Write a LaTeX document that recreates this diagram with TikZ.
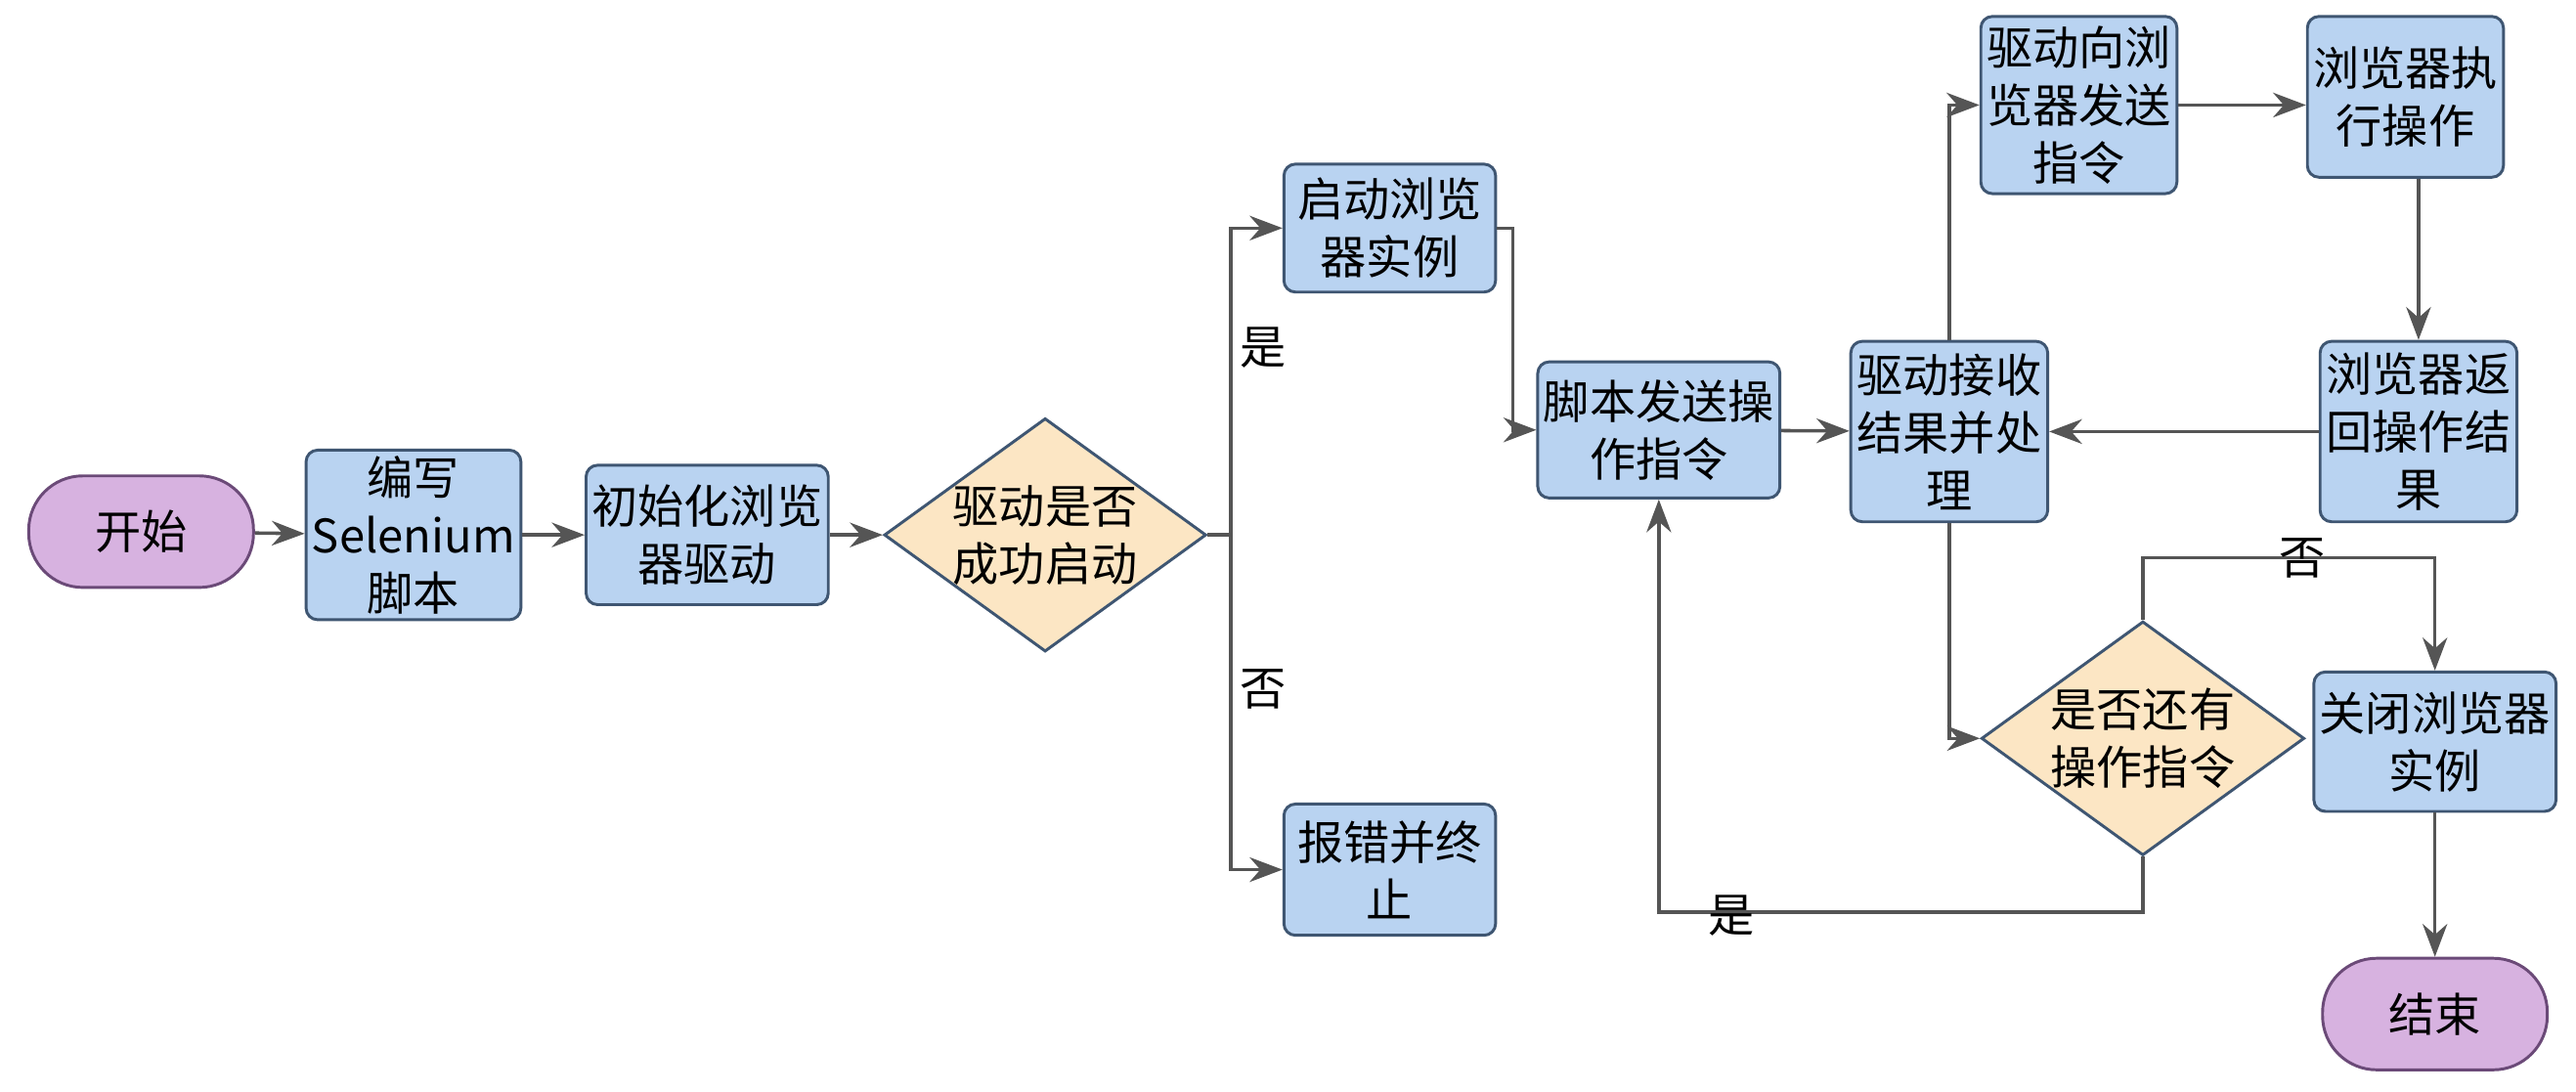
\documentclass[tikz,border=0pt]{standalone}
\usepackage{fontspec}
\setmainfont{Noto Sans CJK SC}
\usetikzlibrary{shapes.geometric,arrows.meta}
\definecolor{boxf}{HTML}{B9D3F1}
\definecolor{boxd}{HTML}{3F5672}
\definecolor{purf}{HTML}{D7B2E0}
\definecolor{purd}{HTML}{6B4A78}
\definecolor{diaf}{HTML}{FCE6C4}
\definecolor{lin}{HTML}{555555}
\begin{document}
\begin{tikzpicture}[x=0.1mm,y=-0.1mm,font=\fontsize{8}{10}\selectfont,
 box/.style={draw=boxd,fill=boxf,rounded corners=2pt,line width=0.5pt,align=center,inner sep=1pt},
 term/.style={draw=purd,fill=purf,rounded corners=3.3mm,line width=0.5pt,minimum width=13.7mm,minimum height=6.8mm},
 dia/.style={draw=boxd,fill=diaf,diamond,aspect=1.38,align=center,inner sep=0pt,line width=0.5pt,minimum width=17.7mm,minimum height=12.9mm},
 ar/.style={draw=lin,line width=0.6pt,-{Stealth[length=2mm,width=1.5mm]}},
 ln/.style={draw=lin,line width=0.6pt}]
\useasboundingbox (0,0) rectangle (1570,665);
\node[term] (start) at (86,324) {开始};
\node[box,minimum width=11.5mm,minimum height=9.5mm] (write) at (252,326) {编写\\Selenium\\脚本};
\node[box,minimum width=13.8mm,minimum height=8.5mm] (init) at (431,326) {初始化浏览\\器驱动};
\node[dia] (d1) at (637,326) {驱动是否\\成功启动};
\coordinate (br) at (750,326);
\node[box,minimum width=12.9mm,minimum height=7.8mm] (launch) at (847,139) {启动浏览\\器实例};
\node[box,minimum width=12.9mm,minimum height=8mm] (err) at (847,530) {报错并终\\止};
\node[box,minimum width=14.2mm,minimum height=8.3mm] (send) at (1011,262) {脚本发送操\\作指令};
\node[box,minimum width=12mm,minimum height=11mm] (recv) at (1188,263) {驱动接收\\结果并处\\理};
\node[box,minimum width=11.8mm,minimum height=10.8mm] (drv) at (1267,64) {驱动向浏\\览器发送\\指令};
\node[box,minimum width=11.9mm,minimum height=9.8mm] (exec) at (1466,59) {浏览器执\\行操作};
\node[box,minimum width=12mm,minimum height=11mm] (ret) at (1474,263) {浏览器返\\回操作结\\果};
\node[dia] (d2) at (1306,450) {是否还有\\操作指令};
\node[box,minimum width=14mm,minimum height=8.5mm] (close) at (1484,452) {关闭浏览器\\实例};
\node[term] (end) at (1484,618) {结束};
\draw[ar] (start) -- (write);
\draw[ar] (write) -- (init);
\draw[ar] (init) -- (d1);
\draw[ln] (d1.east) -- (br);
\draw[ar] (br) |- (launch.west);
\draw[ar] (br) |- (err.west);
\node at (770,212) {是};
\node at (770,420) {否};
\draw[ar] (launch.east) -- (922,139) |- (send.west);
\draw[ar] (send) -- (recv);
\draw[ar] (recv.north) |- (drv.west);
\draw[ar] (drv.east |- 0,64) -- (exec.west |- 0,64);
\draw[ar] (exec.south -| ret.north) -- (ret.north);
\draw[ar] (ret) -- (recv);
\draw[ar] (recv.south) |- (d2.west);
\draw[ar] (d2.north) -- (1306,340) -| (close.north);
\node at (1403,340) {否};
\draw[ar] (close) -- (end);
\draw[ar] (d2.south) -- (1306,556) -| (send.south);
\node at (1055,558) {是};
\end{tikzpicture}
\end{document}
